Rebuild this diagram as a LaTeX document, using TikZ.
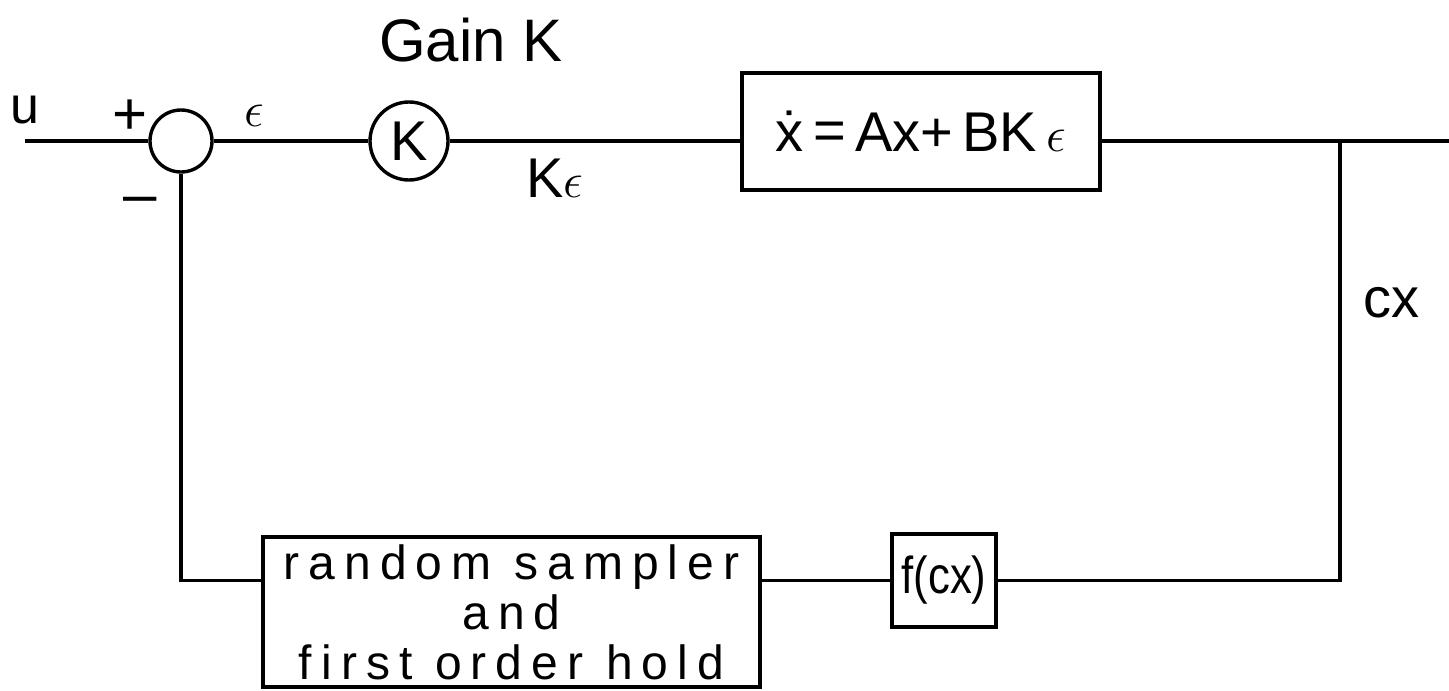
\documentclass[tikz,border=0pt]{standalone}
\usepackage{graphicx}
\usepackage{fontspec}
\setmainfont{Liberation Sans}
\begin{document}
\begin{tikzpicture}[x=0.5pt,y=-0.5pt,
  wire/.style={line width=1.7pt},
  blk/.style={draw,line width=1.7pt,inner sep=0pt,align=center},
  junc/.style={draw,circle,line width=1.7pt,inner sep=0pt},
  big/.style={font=\fontsize{28}{30}\selectfont},
  lbl/.style={font=\fontsize{26}{30}\selectfont},
  sgn/.style={font=\fontsize{30}{30}\selectfont}]
\useasboundingbox (0,0) rectangle (1449,690);
% nodes
\coordinate (u) at (25,141);
\node[junc,minimum size=31pt] (sum) at (181,141) {};
\node[junc,minimum size=39pt,big] (gain) at (409,141) {K};
\node[blk,minimum width=179pt,minimum height=58.5pt] (plant) at (921,131.5) {};
\node[big,anchor=base] (eq) at (921,151) {\.{x}\,\raisebox{1pt}{=}\,Ax+\,BK\,{\fontsize{24}{24}\selectfont$\epsilon$}};
\coordinate (out) at (1449,141);
\coordinate (br) at (1340,141);
\node[blk,minimum width=52pt,minimum height=46.5pt,font=\fontsize{26}{30}\selectfont] (fbox) at (944,580.5) {\scalebox{0.84}[1]{f(cx)}};
\node[blk,minimum width=248.5pt,minimum height=75pt,font=\fontsize{24}{25}\selectfont\addfontfeature{LetterSpace=19}] (rbox) at (511.5,612) {random sampler\\and\\first order hold};
% labels
\node[lbl] (ulab) at (25,110) {u};
\node[sgn] (plus) at (130,117) {+};
\node[sgn] (minus) at (140,206) {\textendash};
\node[font=\fontsize{24}{24}\selectfont] (eps) at (254,116) {$\epsilon$};
\node[font=\fontsize{30}{30}\selectfont] (gainlab) at (471,40) {Gain K};
\node[big] (kelab) at (555,178) {K$\epsilon$};
\node[big] (cxlab) at (1391,303) {cx};
% connectors
\draw[wire] (u) -- (sum.west);
\draw[wire] (sum.east) -- (gain.west);
\draw[wire] (gain.east) -- (gain.east -| plant.west);
\draw[wire] (plant.east |- br) -- (out);
\draw[wire] (br) |- (fbox.east);
\draw[wire] (fbox.west) -- (fbox.west -| rbox.east);
\draw[wire] (rbox.west |- fbox.west) -| (sum.south);
\end{tikzpicture}
\end{document}
